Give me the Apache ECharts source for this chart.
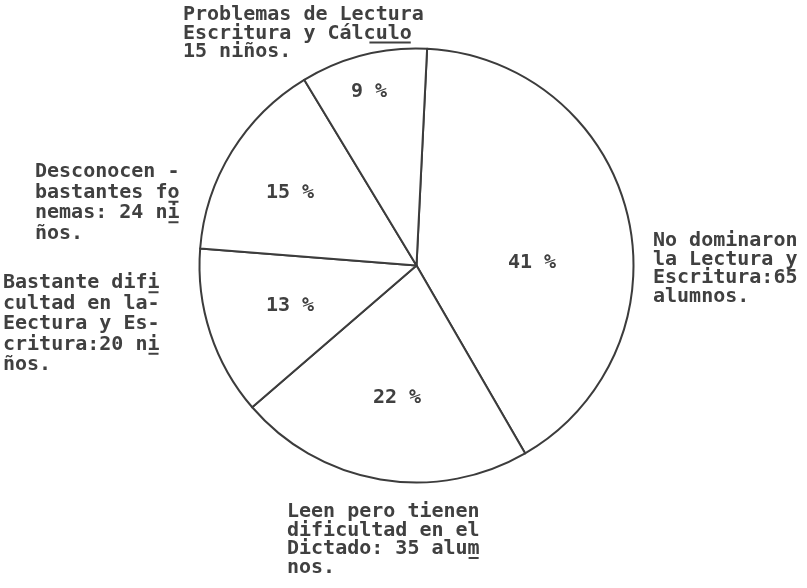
<!DOCTYPE html>
<html><head><meta charset="utf-8">
<script src="https://cdn.jsdelivr.net/npm/echarts@6/dist/echarts.min.js"></script>
<style>html,body{margin:0;padding:0;background:#fff}#c{width:807px;height:588px}</style>
</head><body><div id="c"></div>
<script>
// ---- data ----
const categories = [
  'No dominaron la Lectura y Escritura',
  'Leen pero tienen dificultad en el Dictado',
  'Bastante dificultad en la Lectura y Escritura',
  'Desconocen bastantes fonemas',
  'Problemas de Lectura Escritura y Cálculo'
];
const values = [65, 35, 20, 24, 15];
const annotationLines = [
  ['No dominaron', 'la Lectura y', 'Escritura:65', 'alumnos.'],
  ['Leen pero tienen', 'dificultad en el', 'Dictado: 35 alum', 'nos.'],
  ['Bastante difi', 'cultad en la-', 'Eectura y Es-', 'critura:20 ni', 'ños.'],
  ['Desconocen -', 'bastantes fo', 'nemas: 24 ni', 'ños.'],
  ['Problemas de Lectura', 'Escritura y Cálculo', '15 niños.']
];
// typewriter underlines: [block, line, firstChar, lastChar]
const underlineMarks = [
  [1, 2, 15, 15],
  [2, 0, 12, 12],
  [2, 3, 12, 12],
  [3, 1, 11, 11],
  [3, 2, 11, 11],
  [4, 1, 15.4, 18]
];

// ---- layout (positions / styles) ----
const CX = 416.5, CY = 265.5, R = 217;
const FONT = 'bold 20px "DejaVu Sans Mono", "Liberation Mono", monospace';
const INK = '#404040';
const CHAR_W = 12.04;
const pctPos = [[532, 263], [397, 398], [290, 306], [290, 193], [369, 92]];
const notePos = [[653, 231.75, 18.5], [287, 502.75, 18.5], [3, 273, 20.5], [35, 162, 20.5], [183, 5.75, 18.5]];

const total = values.reduce((a, b) => a + b, 0);
const graphics = [];
values.forEach((v, i) => {
  graphics.push({
    type: 'text', x: pctPos[i][0], y: pctPos[i][1], silent: true, z: 100,
    style: { text: Math.round(v / total * 100) + ' %', font: FONT, fill: INK, align: 'center', verticalAlign: 'middle' }
  });
  graphics.push({
    type: 'text', x: notePos[i][0], y: notePos[i][1], silent: true, z: 100,
    style: { text: annotationLines[i].join('\n'), font: FONT, fill: INK, align: 'left', verticalAlign: 'top', lineHeight: notePos[i][2] }
  });
});
underlineMarks.forEach(([b, l, c0, c1]) => {
  const [x0, y0, lh] = notePos[b];
  const y = y0 + l * lh + lh / 2 + 9;
  graphics.push({
    type: 'line', silent: true, z: 100,
    shape: { x1: x0 + c0 * CHAR_W + 1, y1: y, x2: x0 + (c1 + 1) * CHAR_W - 1, y2: y },
    style: { stroke: INK, lineWidth: 2 }
  });
});

const chart = echarts.init(document.getElementById('c'), null, { renderer: 'canvas' });
chart.setOption({
  backgroundColor: '#ffffff',
  animation: false,
  series: [{
    type: 'pie',
    center: [CX, CY],
    radius: [0, R],
    startAngle: 87.2,
    clockwise: true,
    avoidLabelOverlap: false,
    label: { show: false },
    labelLine: { show: false },
    emphasis: { disabled: true },
    itemStyle: { color: '#ffffff', borderColor: '#3c3c3c', borderWidth: 2 },
    data: categories.map((c, i) => ({ name: c, value: values[i] }))
  }],
  graphic: graphics
});
</script>
</body></html>
